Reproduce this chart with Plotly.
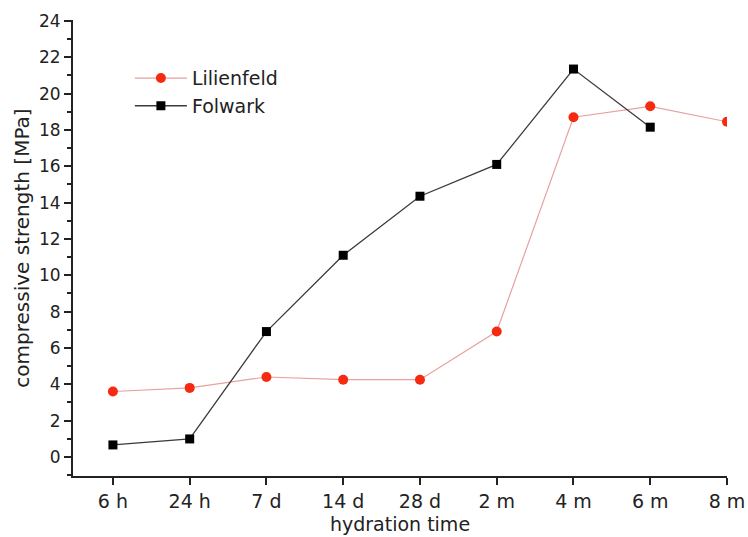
import plotly.graph_objects as go

categories = ["6 h", "24 h", "7 d", "14 d", "28 d", "2 m", "4 m", "6 m", "8 m"]
lilienfeld = [3.6, 3.8, 4.4, 4.25, 4.25, 6.9, 18.7, 19.3, 18.45]
folwark = [0.66, 0.99, 6.9, 11.1, 14.35, 16.1, 21.35, 18.15, None]
y_ticks = list(range(0, 25, 2))

fig = go.Figure()
fig.add_trace(go.Scatter(
    x=categories, y=lilienfeld, name="Lilienfeld", mode="lines+markers",
    line=dict(color="#e8a0a0", width=1.2),
    marker=dict(symbol="circle", size=10, color="#f52a10"),
))
fig.add_trace(go.Scatter(
    x=categories, y=folwark, name="Folwark", mode="lines+markers",
    line=dict(color="#3a3a3a", width=1.3),
    marker=dict(symbol="square", size=9, color="#000000"),
))

font = "DejaVu Sans, Verdana, sans-serif"
fig.update_layout(
    width=748, height=537,
    margin=dict(l=73, r=21, t=20, b=61),
    paper_bgcolor="white", plot_bgcolor="white",
    font=dict(family=font, size=17, color="#222222"),
    showlegend=True,
    legend=dict(x=0.087, y=0.914, xanchor="left", yanchor="top",
                bgcolor="rgba(0,0,0,0)", font=dict(size=19, color="#222222"),
                traceorder="normal", itemwidth=52, tracegroupgap=0),
    xaxis=dict(
        type="category", categoryorder="array", categoryarray=categories,
        range=[-0.52, 8], showgrid=False, zeroline=False, automargin=False,
        showline=True, linecolor="#222222", linewidth=2,
        ticks="outside", ticklen=7, tickwidth=2, tickcolor="#222222",
        title=dict(text="hydration time", standoff=7, font=dict(size=19)),
        tickfont=dict(size=19),
    ),
    yaxis=dict(
        range=[-1.05, 24.05], tickvals=y_ticks, showgrid=False, zeroline=False,
        automargin=False,
        showline=True, linecolor="#222222", linewidth=2,
        ticks="outside", ticklen=7, tickwidth=2, tickcolor="#222222",
        minor=dict(dtick=1, tick0=0, ticks="outside", ticklen=4, tickwidth=1.5, tickcolor="#222222"),
        title=dict(text="compressive strength [MPa]", standoff=4, font=dict(size=20)),
        tickfont=dict(size=17),
    ),
)

fig.write_html("out.html", config={"displayModeBar": False},
               post_script="document.body.style.margin='0';")
